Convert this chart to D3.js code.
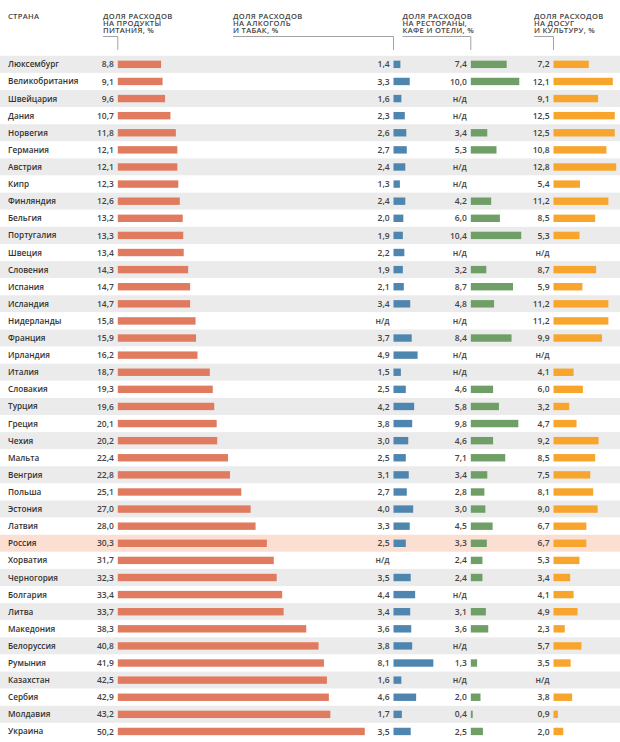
<!DOCTYPE html>
<html><head><meta charset="utf-8">
<script src="https://d3js.org/d3.v7.min.js"></script>
<style>html,body{margin:0;padding:0;background:#fff}svg{display:block}text{font-family:"Open Sans",sans-serif}</style>
</head><body><svg id="c" width="620" height="742"></svg>
<script>
const countries=["Люксембург","Великобритания","Швейцария","Дания","Норвегия","Германия","Австрия","Кипр","Финляндия","Бельгия","Португалия","Швеция","Словения","Испания","Исландия","Нидерланды","Франция","Ирландия","Италия","Словакия","Турция","Греция","Чехия","Мальта","Венгрия","Польша","Эстония","Латвия","Россия","Хорватия","Черногория","Болгария","Литва","Македония","Белоруссия","Румыния","Казахстан","Сербия","Молдавия","Украина"];
const food=[8.8,9.1,9.6,10.7,11.8,12.1,12.1,12.3,12.6,13.2,13.3,13.4,14.3,14.7,14.7,15.8,15.9,16.2,18.7,19.3,19.6,20.1,20.2,22.4,22.8,25.1,27.0,28.0,30.3,31.7,32.3,33.4,33.7,38.3,40.8,41.9,42.5,42.9,43.2,50.2];
const alcohol=[1.4,3.3,1.6,2.3,2.6,2.7,2.4,1.3,2.4,2.0,1.9,2.2,1.9,2.1,3.4,null,3.7,4.9,1.5,2.5,4.2,3.8,3.0,2.5,3.1,2.7,4.0,3.3,2.5,null,3.5,4.4,3.4,3.6,3.8,8.1,1.6,4.6,1.7,3.5];
const restaurants=[7.4,10.0,null,null,3.4,5.3,null,null,4.2,6.0,10.4,null,3.2,8.7,4.8,null,8.4,null,null,4.6,5.8,9.8,4.6,7.1,3.4,2.8,3.0,4.5,3.3,2.4,2.4,null,3.1,3.6,null,1.3,null,2.0,0.4,2.5];
const leisure=[7.2,12.1,9.1,12.5,12.5,10.8,12.8,5.4,11.2,8.5,5.3,null,8.7,5.9,11.2,11.2,9.9,null,4.1,6.0,3.2,4.7,9.2,8.5,7.5,8.1,9.0,6.7,6.7,5.3,3.4,4.1,4.9,2.3,5.7,3.5,null,3.8,0.9,2.0];
const countryHeader="СТРАНА";
const headers=[["ДОЛЯ РАСХОДОВ","НА ПРОДУКТЫ","ПИТАНИЯ, %"],["ДОЛЯ РАСХОДОВ","НА АЛКОГОЛЬ","И ТАБАК, %"],["ДОЛЯ РАСХОДОВ","НА РЕСТОРАНЫ,","КАФЕ И ОТЕЛИ, %"],["ДОЛЯ РАСХОДОВ","НА ДОСУГ","И КУЛЬТУРУ, %"]];
const highlight="Россия";

const svg=d3.select("#c");
const y=d3.scaleBand().domain(countries).range([55.8,740]).padding(0);
const columns=[
 {values:food,x0:117.8,unit:4.92,color:"#e07b5f",hx:103},
 {values:alcohol,x0:393.5,unit:4.92,color:"#4f86b0",hx:233},
 {values:restaurants,x0:470.8,unit:4.85,color:"#6f9f66",hx:402.5},
 {values:leisure,x0:553.5,unit:4.9,color:"#f7a52d",hx:534}
];
const fmt=v=>v==null?"н/д":d3.format(".1f")(v).replace(".",",");

svg.selectAll("rect.row").data(countries).join("rect").attr("class","row")
 .attr("x",0).attr("width",620).attr("y",d=>y(d)).attr("height",y.bandwidth())
 .attr("fill",(d,i)=>d===highlight?"#fbdfd3":(i%2===0?"#ebebeb":"#fff"));

svg.selectAll("text.name").data(countries).join("text").attr("class","name")
 .attr("x",8).attr("y",d=>y(d)+y.bandwidth()/2+3)
 .attr("font-size",8.2).attr("font-weight",600).attr("fill","#333").text(d=>d);

svg.append("text").attr("x",8).attr("y",19.3).attr("font-size",7.6).attr("font-weight",600).attr("fill","#444").attr("letter-spacing",0.3).text(countryHeader);

columns.forEach((c,ci)=>{
 const w=d3.scaleLinear().domain([0,1]).range([0,c.unit]);
 const rows=c.values.map((v,i)=>({v,n:countries[i]}));
 const g=svg.append("g");
 g.selectAll("rect").data(rows.filter(d=>d.v!=null)).join("rect")
  .attr("x",c.x0).attr("width",d=>w(d.v)).attr("y",d=>y(d.n)+y.bandwidth()/2-3.7).attr("height",7.4).attr("fill",c.color);
 g.selectAll("text").data(rows).join("text")
  .attr("x",c.x0-3.9).attr("y",d=>y(d.n)+y.bandwidth()/2+3.1).attr("text-anchor","end")
  .attr("font-size",8.5).attr("font-weight",600).attr("fill","#444").text(d=>fmt(d.v));
 const h=svg.append("g");
 const t=h.append("text").attr("font-size",7.6).attr("font-weight",600).attr("fill","#444").attr("letter-spacing",0.3);
 headers[ci].forEach((line,i)=>t.append("tspan").attr("x",c.hx).attr("y",19.3+i*6.8).text(line));
 h.append("path").attr("fill","none").attr("stroke","#a3a3a3").attr("stroke-width",1)
  .attr("d",d3.line()([[c.hx,36.5],[c.x0,36.5],[c.x0,50]]));
});
</script></body></html>
